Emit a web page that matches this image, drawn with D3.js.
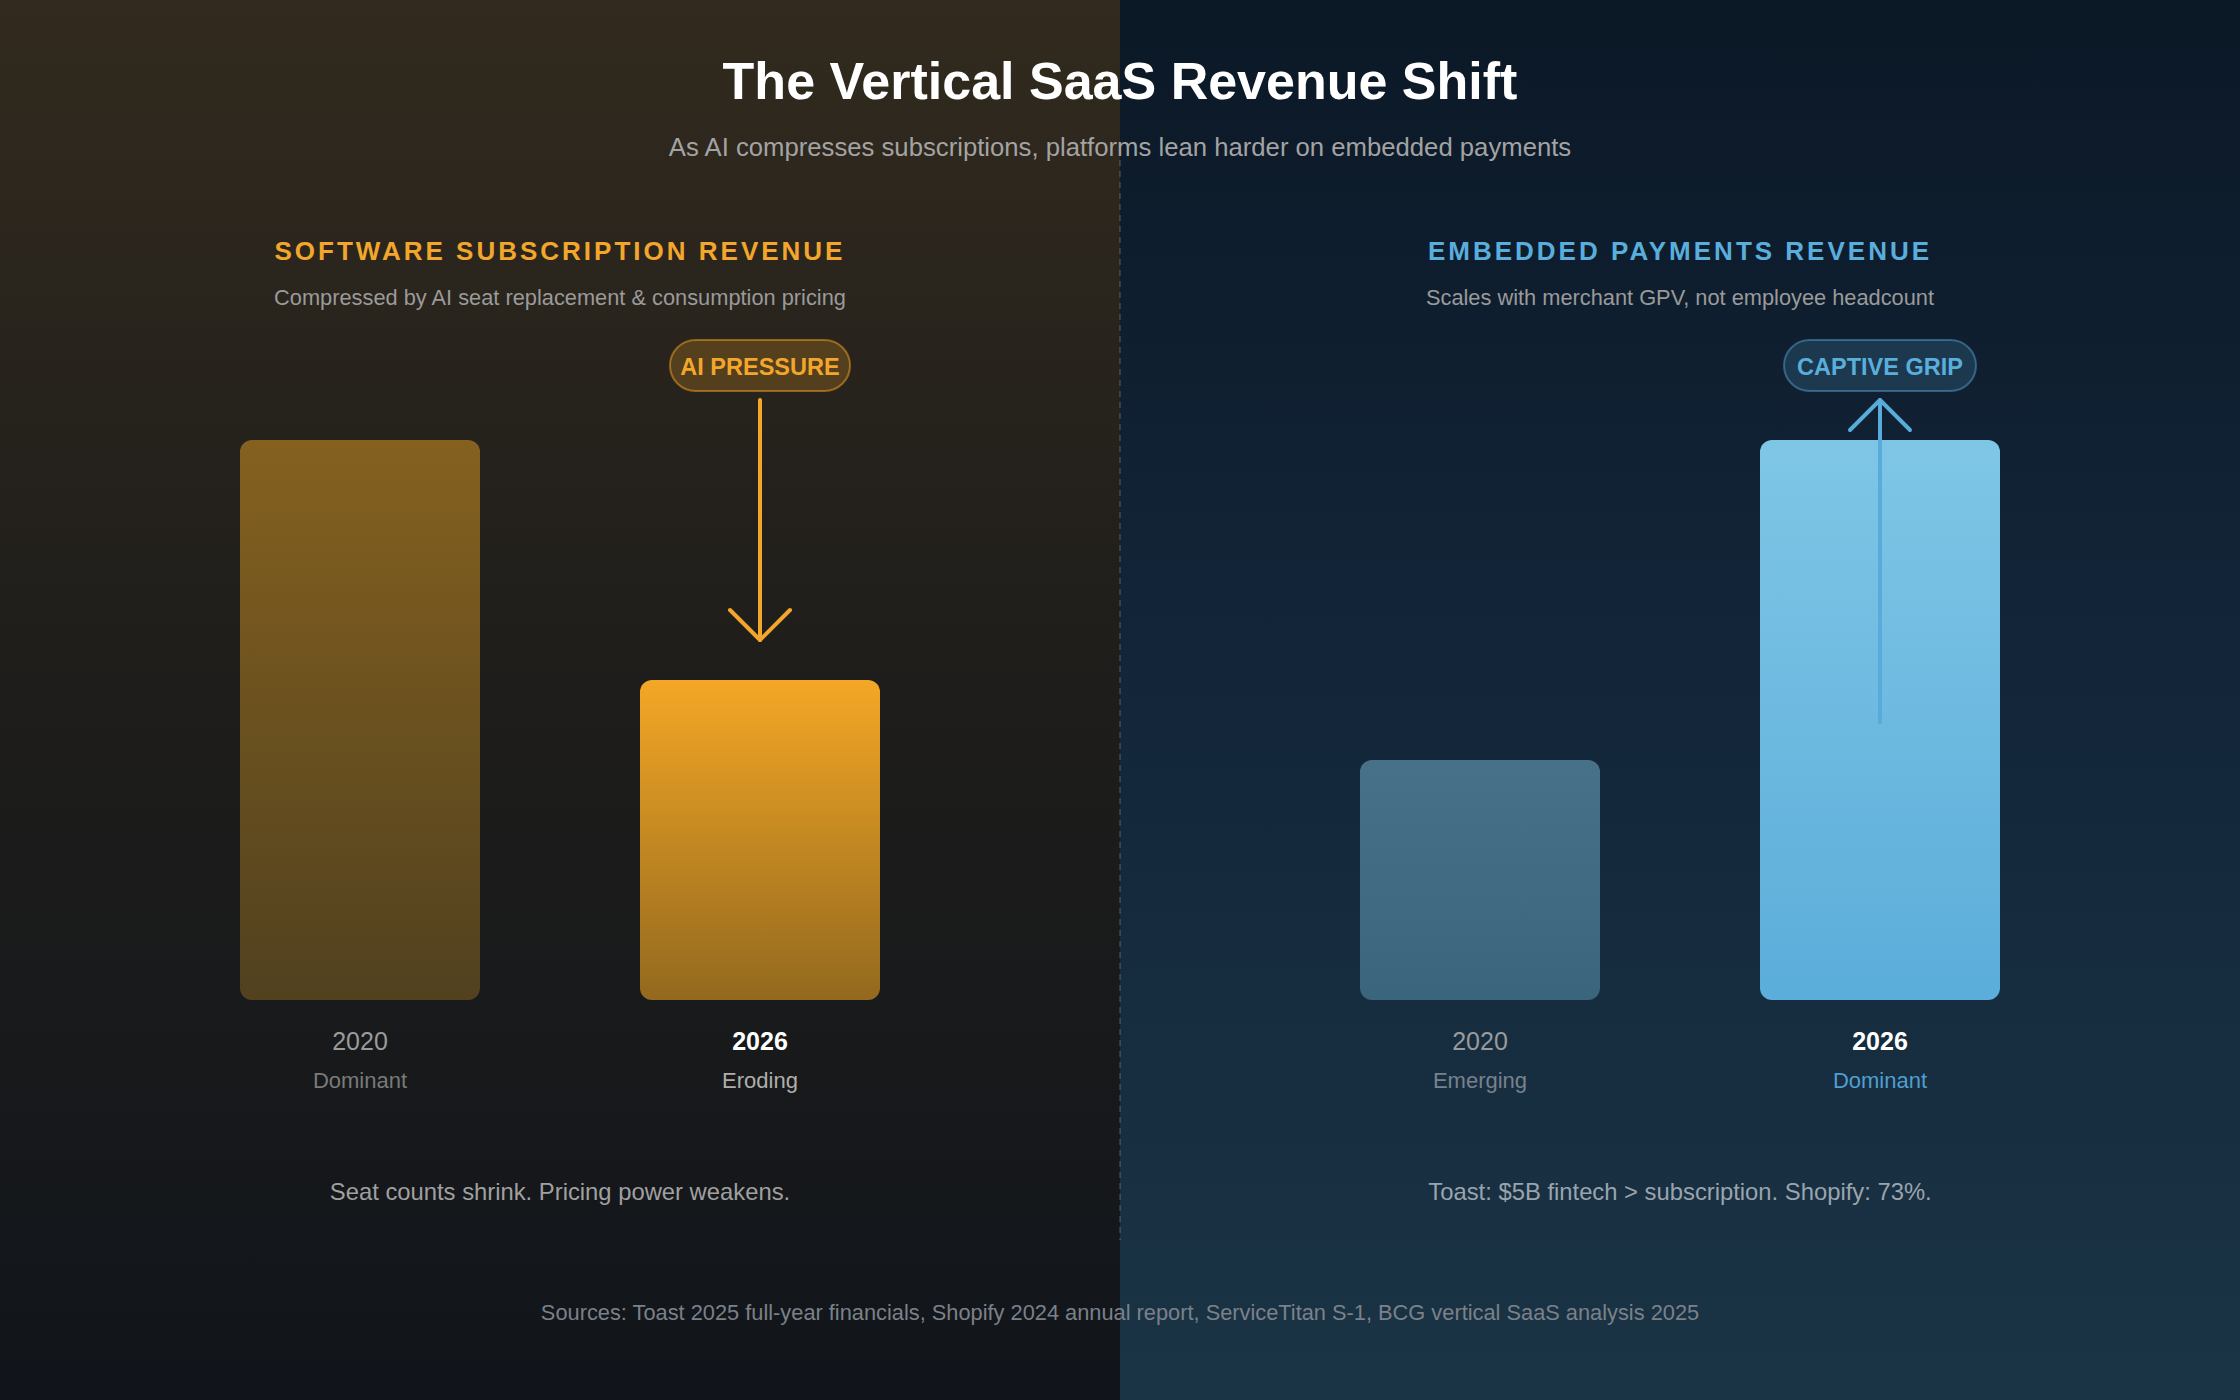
<!DOCTYPE html>
<html>
<head>
<meta charset="utf-8">
<script src="https://cdn.jsdelivr.net/npm/d3@7"></script>
<style>
  html, body { margin: 0; padding: 0; background: #11161c; }
  svg { display: block; font-family: "Liberation Sans", Arial, Helvetica, sans-serif; }
</style>
</head>
<body>
<svg id="chart"></svg>
<script>
// Chart data
const years = ['2020', '2026'];
const subscriptionValues = [70, 40];
const paymentsValues = [30, 70];
const subscriptionStatus = ['Dominant', 'Eroding'];
const paymentsStatus = ['Emerging', 'Dominant'];

const width = 2240, height = 1400;
const mid = width / 2;

const svg = d3.select('#chart')
    .attr('width', width)
    .attr('height', height);

const defs = svg.append('defs');

function vGradient(id, stops) {
    const g = defs.append('linearGradient')
        .attr('id', id)
        .attr('x1', 0).attr('y1', 0).attr('x2', 0).attr('y2', 1);
    stops.forEach(s => g.append('stop').attr('offset', s[0]).attr('stop-color', s[1]));
}

// backgrounds
vGradient('bgLeft', [[0, '#322a1e'], [0.5, '#1e1d1b'], [1, '#11151b']]);
vGradient('bgRight', [[0, '#0b1826'], [0.5, '#13263a'], [1, '#1a3445']]);
// bars
vGradient('subOld', [[0, '#85611f'], [1, '#51411f']]);
vGradient('subNew', [[0, '#f4a725'], [1, '#93691f']]);
vGradient('payOld', [[0, '#477188'], [1, '#3a657d']]);
vGradient('payNew', [[0, '#7fc6e6'], [1, '#5badda']]);

svg.append('rect').attr('x', 0).attr('y', 0).attr('width', mid).attr('height', height)
    .attr('fill', 'url(#bgLeft)');
svg.append('rect').attr('x', mid).attr('y', 0).attr('width', mid).attr('height', height)
    .attr('fill', 'url(#bgRight)');

// divider
svg.append('line')
    .attr('x1', mid).attr('x2', mid)
    .attr('y1', 160).attr('y2', 1240)
    .attr('stroke', 'rgba(255,255,255,0.14)')
    .attr('stroke-width', 2)
    .attr('stroke-dasharray', '6,5');

// Title
svg.append('text')
    .attr('x', mid).attr('y', 99)
    .attr('text-anchor', 'middle')
    .style('font-size', '52px')
    .style('font-weight', 'bold')
    .style('fill', '#ffffff')
    .text('The Vertical SaaS Revenue Shift');

svg.append('text')
    .attr('x', mid).attr('y', 156)
    .attr('text-anchor', 'middle')
    .style('font-size', '25.7px')
    .style('fill', '#a3a3a3')
    .text('As AI compresses subscriptions, platforms lean harder on embedded payments');

const y = d3.scaleLinear().domain([0, 70]).range([1000, 440]);

const panels = [
    {
        left: 0, title: 'SOFTWARE SUBSCRIPTION REVENUE', color: '#f2a62c',
        sub: 'Compressed by AI seat replacement & consumption pricing',
        values: subscriptionValues, status: subscriptionStatus,
        fills: ['url(#subOld)', 'url(#subNew)'],
        statusColors: ['#7a7a78', '#b0aeaa'],
        badge: 'AI PRESSURE', badgeW: 180,
        badgeFill: 'rgba(245,166,35,0.22)', badgeStroke: 'rgba(245,166,35,0.5)',
        arrowColor: '#f2a62c', direction: 'down',
        note: 'Seat counts shrink. Pricing power weakens.', noteColor: '#a0a0a0'
    },
    {
        left: mid, title: 'EMBEDDED PAYMENTS REVENUE', color: '#5aaedb',
        sub: 'Scales with merchant GPV, not employee headcount',
        values: paymentsValues, status: paymentsStatus,
        fills: ['url(#payOld)', 'url(#payNew)'],
        statusColors: ['#77828c', '#4f9fcf'],
        badge: 'CAPTIVE GRIP', badgeW: 192,
        badgeFill: 'rgba(90,174,219,0.18)', badgeStroke: 'rgba(90,174,219,0.45)',
        arrowColor: '#58abda', direction: 'up',
        note: 'Toast: $5B fintech > subscription. Shopify: 73%.', noteColor: '#9aa4ae'
    }
];

panels.forEach(p => {
    const cx = p.left + mid / 2;
    const g = svg.append('g');

    const x = d3.scaleBand()
        .domain(years)
        .range([p.left + 160, p.left + 960])
        .paddingInner(0.4)
        .paddingOuter(0.2);

    g.append('text')
        .attr('x', cx).attr('y', 260)
        .attr('text-anchor', 'middle')
        .style('font-size', '26px')
        .style('font-weight', 'bold')
        .style('letter-spacing', '3px')
        .style('fill', p.color)
        .text(p.title);

    g.append('text')
        .attr('x', cx).attr('y', 305)
        .attr('text-anchor', 'middle')
        .style('font-size', '21.8px')
        .style('fill', '#9a9a9a')
        .text(p.sub);

    // bars
    g.selectAll('.bar')
        .data(years)
        .join('rect')
        .attr('class', 'bar')
        .attr('x', d => x(d))
        .attr('y', (d, i) => y(p.values[i]))
        .attr('width', x.bandwidth())
        .attr('height', (d, i) => y(0) - y(p.values[i]))
        .attr('rx', 12)
        .attr('fill', (d, i) => p.fills[i]);

    // year labels
    g.selectAll('.year')
        .data(years)
        .join('text')
        .attr('class', 'year')
        .attr('x', d => x(d) + x.bandwidth() / 2)
        .attr('y', 1050)
        .attr('text-anchor', 'middle')
        .style('font-size', '25px')
        .style('font-weight', (d, i) => i === 1 ? 'bold' : 'normal')
        .style('fill', (d, i) => i === 1 ? '#ffffff' : '#9a9a9a')
        .text(d => d);

    g.selectAll('.status')
        .data(years)
        .join('text')
        .attr('class', 'status')
        .attr('x', d => x(d) + x.bandwidth() / 2)
        .attr('y', 1088)
        .attr('text-anchor', 'middle')
        .style('font-size', '22px')
        .style('fill', (d, i) => p.statusColors[i])
        .text((d, i) => p.status[i]);

    // badge above the 2026 bar
    const bx = x(years[1]) + x.bandwidth() / 2;
    g.append('rect')
        .attr('x', bx - p.badgeW / 2).attr('y', 340)
        .attr('width', p.badgeW).attr('height', 51)
        .attr('rx', 25.5)
        .attr('fill', p.badgeFill)
        .attr('stroke', p.badgeStroke)
        .attr('stroke-width', 2);
    g.append('text')
        .attr('x', bx).attr('y', 375)
        .attr('text-anchor', 'middle')
        .style('font-size', '23.5px')
        .style('font-weight', 'bold')
        .style('fill', p.color)
        .text(p.badge);

    // arrow
    const arrow = g.append('g')
        .attr('fill', 'none')
        .attr('stroke', p.arrowColor)
        .attr('stroke-width', 4)
        .attr('stroke-linecap', 'round')
        .attr('stroke-linejoin', 'round');
    if (p.direction === 'down') {
        const tip = y(p.values[1]) - 40;
        arrow.append('line').attr('x1', bx).attr('x2', bx).attr('y1', 400).attr('y2', tip);
        arrow.append('path').attr('d', d3.line()([[bx - 30, tip - 30], [bx, tip], [bx + 30, tip - 30]]));
    } else {
        const tip = 400;
        arrow.append('line').attr('x1', bx).attr('x2', bx).attr('y1', tip).attr('y2', 722);
        arrow.append('path').attr('d', d3.line()([[bx - 30, tip + 30], [bx, tip], [bx + 30, tip + 30]]));
    }

    g.append('text')
        .attr('x', cx).attr('y', 1200)
        .attr('text-anchor', 'middle')
        .style('font-size', '23.8px')
        .style('fill', p.noteColor)
        .text(p.note);
});

svg.append('text')
    .attr('x', mid).attr('y', 1320)
    .attr('text-anchor', 'middle')
    .style('font-size', '21.8px')
    .style('fill', '#7b8189')
    .text('Sources: Toast 2025 full-year financials, Shopify 2024 annual report, ServiceTitan S-1, BCG vertical SaaS analysis 2025');
</script>
</body>
</html>
